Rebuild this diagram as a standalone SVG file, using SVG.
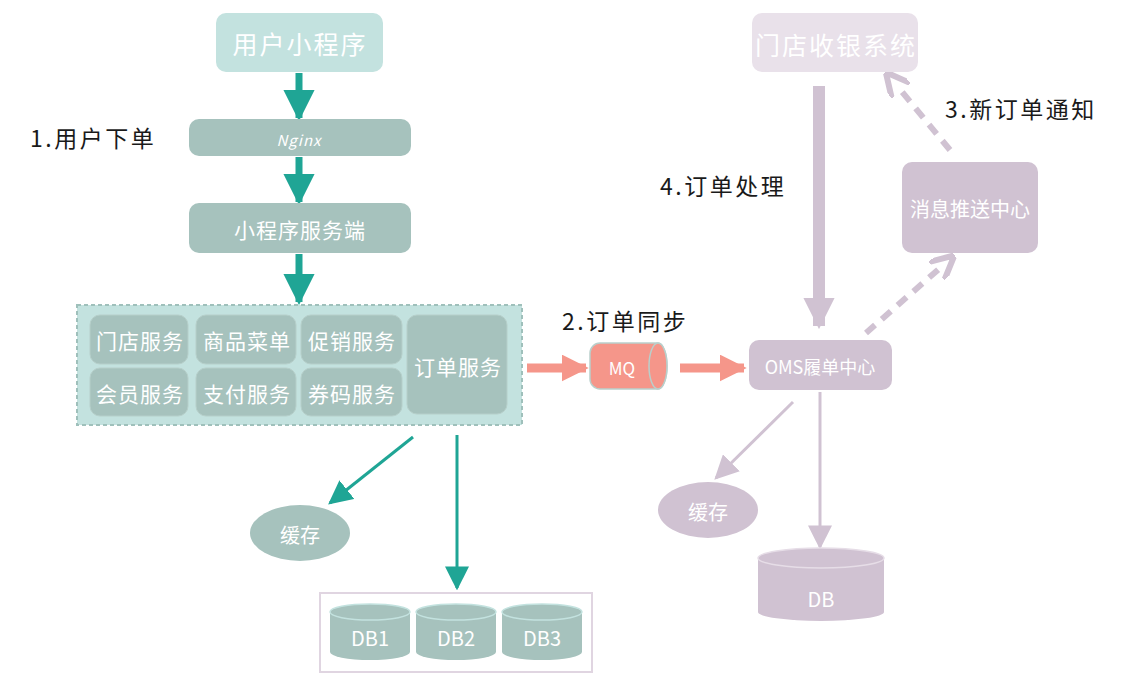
<svg xmlns="http://www.w3.org/2000/svg" width="1142" height="685" viewBox="0 0 1142 685">
<defs>
<style>
text{font-family:"Noto Sans CJK SC","Noto Sans",sans-serif;text-anchor:middle;dominant-baseline:central}
.w{fill:#ffffff}
.lbl{fill:#1a1a1a;font-size:23px;text-anchor:start;letter-spacing:2.5px}
.tealA{stroke:#1fa595;fill:none}
.purA{stroke:#d0c2d2;fill:none}
.inner{fill:#a6c2bd;stroke:#b6cfca;stroke-width:1}
.svc{font-size:21px;letter-spacing:1px}
</style>
<marker id="mt" viewBox="0 0 10 10" refX="9" refY="5" markerWidth="4.5" markerHeight="4.5" orient="auto" markerUnits="strokeWidth"><path d="M0,0 L10,5 L0,10 z" fill="#1fa595"/></marker>
<marker id="mtl" viewBox="0 0 10 10" refX="9" refY="5" markerWidth="8" markerHeight="8" orient="auto" markerUnits="strokeWidth"><path d="M0,0 L10,5 L0,10 z" fill="#1fa595"/></marker>
<marker id="mc" viewBox="0 0 10 10" refX="9" refY="5" markerWidth="3" markerHeight="3" orient="auto" markerUnits="strokeWidth"><path d="M0,0 L10,5 L0,10 z" fill="#f5968a"/></marker>
<marker id="mp" viewBox="0 0 10 10" refX="9" refY="5" markerWidth="2.6" markerHeight="2.6" orient="auto" markerUnits="strokeWidth"><path d="M0,0 L10,5 L0,10 z" fill="#d0c2d2"/></marker>
<marker id="mpd" viewBox="0 0 10 10" refX="2" refY="5" markerWidth="4" markerHeight="4" orient="auto" markerUnits="strokeWidth"><path d="M0,0 L10,5 L0,10" fill="none" stroke="#d0c2d2" stroke-width="2.5"/></marker>
<marker id="mpl" viewBox="0 0 10 10" refX="9" refY="5" markerWidth="8" markerHeight="8" orient="auto" markerUnits="strokeWidth"><path d="M0,0 L10,5 L0,10 z" fill="#d0c2d2"/></marker>
</defs>
<rect width="1142" height="685" fill="#ffffff"/>

<g id="connectors">
<line x1="299" y1="73" x2="299" y2="118" class="tealA" stroke-width="7" marker-end="url(#mt)"/>
<line x1="299" y1="157" x2="299" y2="202" class="tealA" stroke-width="7" marker-end="url(#mt)"/>
<line x1="299" y1="254" x2="299" y2="302" class="tealA" stroke-width="7" marker-end="url(#mt)"/>
<line x1="527" y1="368" x2="586" y2="368" stroke="#f5968a" stroke-width="9" marker-end="url(#mc)"/>
<line x1="680" y1="368" x2="744" y2="368" stroke="#f5968a" stroke-width="9" marker-end="url(#mc)"/>
<line x1="819" y1="86" x2="819" y2="326" stroke="#d0c2d2" stroke-width="12" marker-end="url(#mp)"/>
<line x1="866" y1="333" x2="940" y2="268" stroke="#d0c2d2" stroke-width="6" stroke-dasharray="12,9" marker-end="url(#mpd)"/>
<line x1="950" y1="150" x2="898" y2="87" stroke="#d0c2d2" stroke-width="6" stroke-dasharray="12,9" marker-end="url(#mpd)"/>
<line x1="413" y1="437" x2="330" y2="503" class="tealA" stroke-width="3" marker-end="url(#mtl)"/>
<line x1="457" y1="435" x2="457" y2="588" class="tealA" stroke-width="3" marker-end="url(#mtl)"/>
<line x1="793" y1="402" x2="716" y2="478" class="purA" stroke-width="3" marker-end="url(#mpl)"/>
<line x1="820" y1="392" x2="820" y2="547" class="purA" stroke-width="3" marker-end="url(#mpl)"/>
</g>

<g id="labels">
<text class="lbl" x="30" y="137">1.用户下单</text>
<text class="lbl" x="562" y="320">2.订单同步</text>
<text class="lbl" x="945" y="108">3.新订单通知</text>
<text class="lbl" x="660" y="185">4.订单处理</text>
</g>

<g id="user-app">
<rect x="216" y="13" width="167" height="59" rx="10" fill="#c3e2df"/>
<text class="w" x="300" y="43" font-size="25" letter-spacing="2">用户小程序</text>
</g>
<g id="nginx">
<rect x="189" y="119" width="222" height="37" rx="10" fill="#a6c2bd"/>
<text class="w" x="299" y="139" font-size="15" font-style="italic" letter-spacing="1">Nginx</text>
</g>
<g id="mini-server">
<rect x="189" y="203" width="222" height="50" rx="10" fill="#a6c2bd"/>
<text class="w" x="300" y="229" font-size="21" letter-spacing="1">小程序服务端</text>
</g>

<g id="services">
<rect x="77" y="305" width="445" height="120" fill="#c3e2df" stroke="#9fc0bb" stroke-width="2" stroke-dasharray="4,3"/>
<rect class="inner" x="90" y="315" width="98" height="49" rx="10"/>
<text class="w svc" x="140" y="340">门店服务</text>
<rect class="inner" x="196" y="315" width="100" height="49" rx="10"/>
<text class="w svc" x="247" y="340">商品菜单</text>
<rect class="inner" x="301" y="315" width="101" height="49" rx="10"/>
<text class="w svc" x="352" y="340">促销服务</text>
<rect class="inner" x="90" y="368" width="98" height="48" rx="10"/>
<text class="w svc" x="140" y="393">会员服务</text>
<rect class="inner" x="196" y="368" width="100" height="48" rx="10"/>
<text class="w svc" x="247" y="393">支付服务</text>
<rect class="inner" x="301" y="368" width="101" height="48" rx="10"/>
<text class="w svc" x="352" y="393">券码服务</text>
<rect class="inner" x="407" y="315" width="100" height="99" rx="10"/>
<text class="w svc" x="458" y="366">订单服务</text>
</g>

<g id="mq">
<path d="M600,343 H658 A9,23 0 0 1 658,389 H600 A10,10 0 0 1 590,379 V353 A10,10 0 0 1 600,343 z" fill="#f5968a" stroke="#b9cfcb" stroke-width="1.5"/>
<ellipse cx="658" cy="366" rx="9" ry="23" fill="#f5968a" stroke="#b9cfcb" stroke-width="1.5"/>
<text class="w" x="622" y="367" font-size="17">MQ</text>
</g>

<g id="oms">
<rect x="749" y="340" width="143" height="50" rx="10" fill="#d0c2d2"/>
<text class="w" x="820" y="366" font-size="18">OMS履单中心</text>
</g>

<g id="pos">
<rect x="752" y="13" width="166" height="59" rx="10" fill="#e9e1ea"/>
<text class="w" x="836" y="44" font-size="25" letter-spacing="2">门店收银系统</text>
</g>

<g id="push">
<rect x="902" y="162" width="136" height="91" rx="10" fill="#d0c2d2"/>
<text class="w" x="970" y="208" font-size="20">消息推送中心</text>
</g>

<g id="cache-left">
<ellipse cx="300" cy="533" rx="50" ry="28" fill="#a6c2bd"/>
<text class="w" x="300" y="534" font-size="20">缓存</text>
</g>

<g id="db-group">
<rect x="320" y="593" width="272" height="79" fill="#ffffff" stroke="#e0d5e1" stroke-width="2"/>
<g id="db1">
<path d="M330,612 V652 A40,8 0 0 0 410,652 V612 z" fill="#a6c2bd"/>
<ellipse cx="370" cy="612" rx="40" ry="8" fill="#a6c2bd" stroke="#c3e2df" stroke-width="1.5"/>
<text class="w" x="370" y="637" font-size="20">DB1</text>
</g>
<g id="db2">
<path d="M416,612 V652 A40,8 0 0 0 496,652 V612 z" fill="#a6c2bd"/>
<ellipse cx="456" cy="612" rx="40" ry="8" fill="#a6c2bd" stroke="#c3e2df" stroke-width="1.5"/>
<text class="w" x="456" y="637" font-size="20">DB2</text>
</g>
<g id="db3">
<path d="M502,612 V652 A40,8 0 0 0 582,652 V612 z" fill="#a6c2bd"/>
<ellipse cx="542" cy="612" rx="40" ry="8" fill="#a6c2bd" stroke="#c3e2df" stroke-width="1.5"/>
<text class="w" x="542" y="637" font-size="20">DB3</text>
</g>
</g>

<g id="cache-right">
<ellipse cx="708" cy="510" rx="50" ry="28" fill="#d0c2d2"/>
<text class="w" x="708" y="511" font-size="20">缓存</text>
</g>

<g id="db-right">
<path d="M758,558 V612 A63,9 0 0 0 884,612 V558 z" fill="#d0c2d2"/>
<ellipse cx="821" cy="558" rx="63" ry="10" fill="#d0c2d2" stroke="#e6dde7" stroke-width="1.5"/>
<text class="w" x="821" y="598" font-size="20">DB</text>
</g>
</svg>
